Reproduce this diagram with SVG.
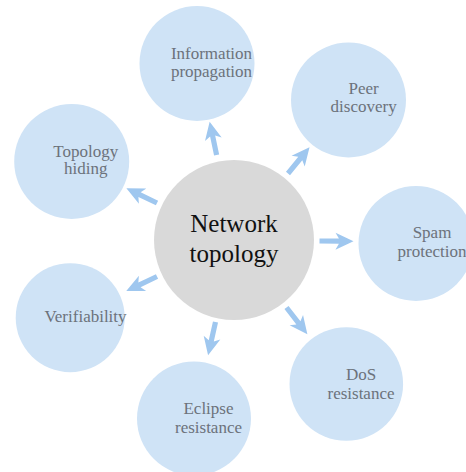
<svg xmlns="http://www.w3.org/2000/svg" xmlns:xlink="http://www.w3.org/1999/xlink" width="466" height="472" viewBox="0 0 466 472">
<style>
.node{fill:#cfe3f6}
.center{fill:#d9d9d9}
.lbl{font-family:"Liberation Serif","Times New Roman",serif;font-size:17px;fill:#6c727b;text-anchor:middle}
.clbl{font-family:"Liberation Serif","Times New Roman",serif;font-size:25px;fill:#111;text-anchor:middle}
.arr{fill:#9fc7ef}
</style>
<defs>
<path id="arrow" d="M0,-2.6 L19.4,-2.6 L16,-8.5 L34,0 L16,8.5 L19.4,2.6 L0,2.6 Z"/>
</defs>
<rect width="466" height="472" fill="#fff"/>
<g id="connectors" class="arr">
<use xlink:href="#arrow" transform="translate(216.6,155) rotate(-101.8)"/>
<use xlink:href="#arrow" transform="translate(288,173.5) rotate(-50.7)"/>
<use xlink:href="#arrow" transform="translate(319.5,241) rotate(0.5)"/>
<use xlink:href="#arrow" transform="translate(286.5,307.5) rotate(52.1)"/>
<use xlink:href="#arrow" transform="translate(215.5,322) rotate(102.6)"/>
<use xlink:href="#arrow" transform="translate(157,276.5) rotate(154.7)"/>
<use xlink:href="#arrow" transform="translate(157,203) rotate(-154.2)"/>
</g>
<g id="center">
<circle class="center" cx="234" cy="240" r="80"/>
<text class="clbl" x="234" y="232">Network</text>
<text class="clbl" x="234" y="261.5">topology</text>
</g>
<g id="info">
<circle class="node" cx="197" cy="63.5" r="57.5"/>
<text class="lbl" x="211.5" y="59">Information</text>
<text class="lbl" x="211.5" y="77.3">propagation</text>
</g>
<g id="peer">
<circle class="node" cx="348.5" cy="100" r="57.5"/>
<text class="lbl" x="363.6" y="94.3">Peer</text>
<text class="lbl" x="363.6" y="112.3">discovery</text>
</g>
<g id="spam">
<circle class="node" cx="416" cy="243.5" r="57.5"/>
<text class="lbl" x="432" y="238.3">Spam</text>
<text class="lbl" x="432" y="256.5">protection</text>
</g>
<g id="dos">
<circle class="node" cx="346.3" cy="384" r="56.8"/>
<text class="lbl" x="361" y="380">DoS</text>
<text class="lbl" x="361" y="398.7">resistance</text>
</g>
<g id="eclipse">
<circle class="node" cx="194" cy="418.5" r="57"/>
<text class="lbl" x="208.5" y="414.3">Eclipse</text>
<text class="lbl" x="208.5" y="432.7">resistance</text>
</g>
<g id="verif">
<circle class="node" cx="70.2" cy="317.7" r="54.5"/>
<text class="lbl" x="85.5" y="322">Verifiability</text>
</g>
<g id="hiding">
<circle class="node" cx="71.7" cy="161.5" r="57.5"/>
<text class="lbl" x="85.8" y="156.7">Topology</text>
<text class="lbl" x="85.8" y="174.3">hiding</text>
</g>
</svg>
